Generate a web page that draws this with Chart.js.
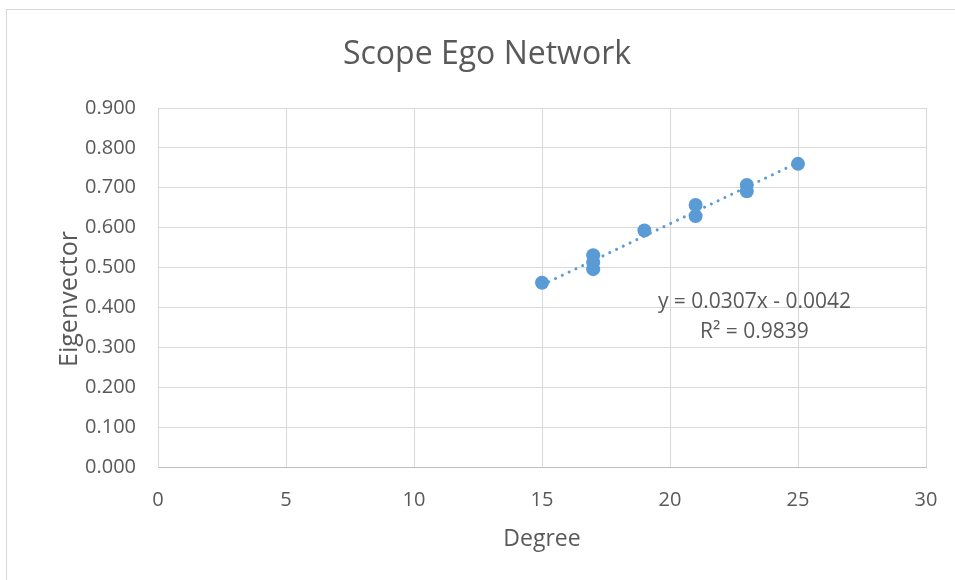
<!DOCTYPE html>
<html>
<head>
<meta charset="utf-8">
<script src="https://cdn.jsdelivr.net/npm/chart.js@4/dist/chart.umd.min.js"></script>
<style>
  html, body { margin: 0; padding: 0; background: #ffffff; overflow: hidden; }
  #wrap { position: relative; width: 955px; height: 580px; }
  #frame { position: absolute; left: 6px; top: 9px; width: 1000px; height: 700px;
           border: 1px solid #d9d9d9; box-sizing: border-box; pointer-events: none; }
  canvas { position: absolute; left: 0; top: 0; }
</style>
</head>
<body>
<div id="wrap">
  <div id="frame"></div>
  <canvas id="chart" width="955" height="580"></canvas>
</div>
<script>
// Degree vs eigenvector centrality for the ego network
const degree      = [15, 17, 17, 17, 19, 21, 21, 23, 23, 25];
const eigenvector = [0.462, 0.531, 0.513, 0.496, 0.593, 0.657, 0.629, 0.707, 0.691, 0.760];

// Linear trendline fit and its fit quality
const trendSlope     = 0.0307;
const trendIntercept = -0.0042;
const trendR2        = 0.9839;

// Axis ranges and tick steps
const xRange = [0, 30];
const xStep  = 5;
const yRange = [0, 0.9];
const yStep  = 0.1;

const chartTitle = 'Scope Ego Network';
const xTitle = 'Degree';
const yTitle = 'Eigenvector';

const textColor = '#595959';
const gridColor = '#d9d9d9';
const markColor = '#5b9bd5';
const fontFamily = '"Open Sans", "Noto Sans", sans-serif';

const points = degree.map((d, i) => ({ x: d, y: eigenvector[i] }));
const xMin = Math.min(...degree);
const xMax = Math.max(...degree);
const trendPoints = [xMin, xMax].map(x => ({ x: x, y: trendSlope * x + trendIntercept }));

const fmtSigned = v => (v < 0 ? ' - ' : ' + ') + Math.abs(v).toFixed(4);
const equationLines = [
  'y = ' + trendSlope.toFixed(4) + 'x' + fmtSigned(trendIntercept),
  'R\u00B2 = ' + trendR2.toFixed(4)
];

// Chart title and vertical axis title
const titleText = {
  id: 'titleText',
  afterDraw(chart) {
    const { ctx } = chart;
    ctx.save();
    ctx.fillStyle = textColor;
    ctx.font = '32px ' + fontFamily;
    ctx.textAlign = 'center';
    ctx.textBaseline = 'alphabetic';
    ctx.fillText(chartTitle, 487, 64);

    ctx.translate(70, 299);
    ctx.rotate(-Math.PI / 2);
    ctx.font = '25px ' + fontFamily;
    ctx.textBaseline = 'middle';
    ctx.fillText(yTitle, 0, 0);
    ctx.restore();
  }
};

// Equation label placed in data space near the upper end of the trendline
const equationLabel = {
  id: 'equationLabel',
  afterDatasetsDraw(chart) {
    const { ctx, scales } = chart;
    const cx = scales.x.getPixelForValue(23.3);
    ctx.save();
    ctx.fillStyle = textColor;
    ctx.font = '21px ' + fontFamily;
    ctx.textAlign = 'center';
    ctx.textBaseline = 'middle';
    ctx.fillText(equationLines[0], cx, scales.y.getPixelForValue(0.4136));
    ctx.fillText(equationLines[1], cx, scales.y.getPixelForValue(0.3384));
    ctx.restore();
  }
};

new Chart(document.getElementById('chart'), {
  type: 'scatter',
  data: {
    datasets: [
      {
        label: yTitle,
        data: points,
        backgroundColor: markColor,
        borderColor: markColor,
        pointRadius: 7,
        pointHoverRadius: 7,
        borderWidth: 0,
        order: 1
      },
      {
        label: 'Linear trend',
        type: 'line',
        data: trendPoints,
        borderColor: markColor,
        borderWidth: 3,
        borderDash: [0.01, 7.5],
        borderCapStyle: 'round',
        pointRadius: 0,
        fill: false,
        order: 2
      }
    ]
  },
  options: {
    responsive: false,
    animation: false,
    events: [],
    layout: { padding: { left: 0, right: 29, top: 108, bottom: 0 } },
    plugins: {
      legend: { display: false },
      tooltip: { enabled: false },
      title: { display: false }
    },
    scales: {
      x: {
        type: 'linear',
        min: xRange[0],
        max: xRange[1],
        afterFit(scale) { scale.height = 113; },
        ticks: { stepSize: xStep, color: textColor, padding: 0,
                 font: { family: fontFamily, size: 20 } },
        grid: { color: gridColor, drawTicks: true, tickLength: 21,
                tickColor: 'rgba(0,0,0,0)', lineWidth: 1 },
        border: { color: '#bfbfbf', width: 1 },
        title: { display: true, text: xTitle, color: textColor,
                 font: { family: fontFamily, size: 23, lineHeight: 1.2 },
                 padding: { top: 0, bottom: 27 } }
      },
      y: {
        type: 'linear',
        min: yRange[0],
        max: yRange[1],
        afterFit(scale) { scale.width = 158; },
        ticks: { stepSize: yStep, color: textColor, padding: 22,
                 callback: v => v.toFixed(3),
                 font: { family: fontFamily, size: 20 } },
        grid: { color: gridColor, drawTicks: false, lineWidth: 1 },
        border: { color: gridColor, width: 1 },
        title: { display: false }
      }
    }
  },
  plugins: [equationLabel, titleText]
});
</script>
</body>
</html>
